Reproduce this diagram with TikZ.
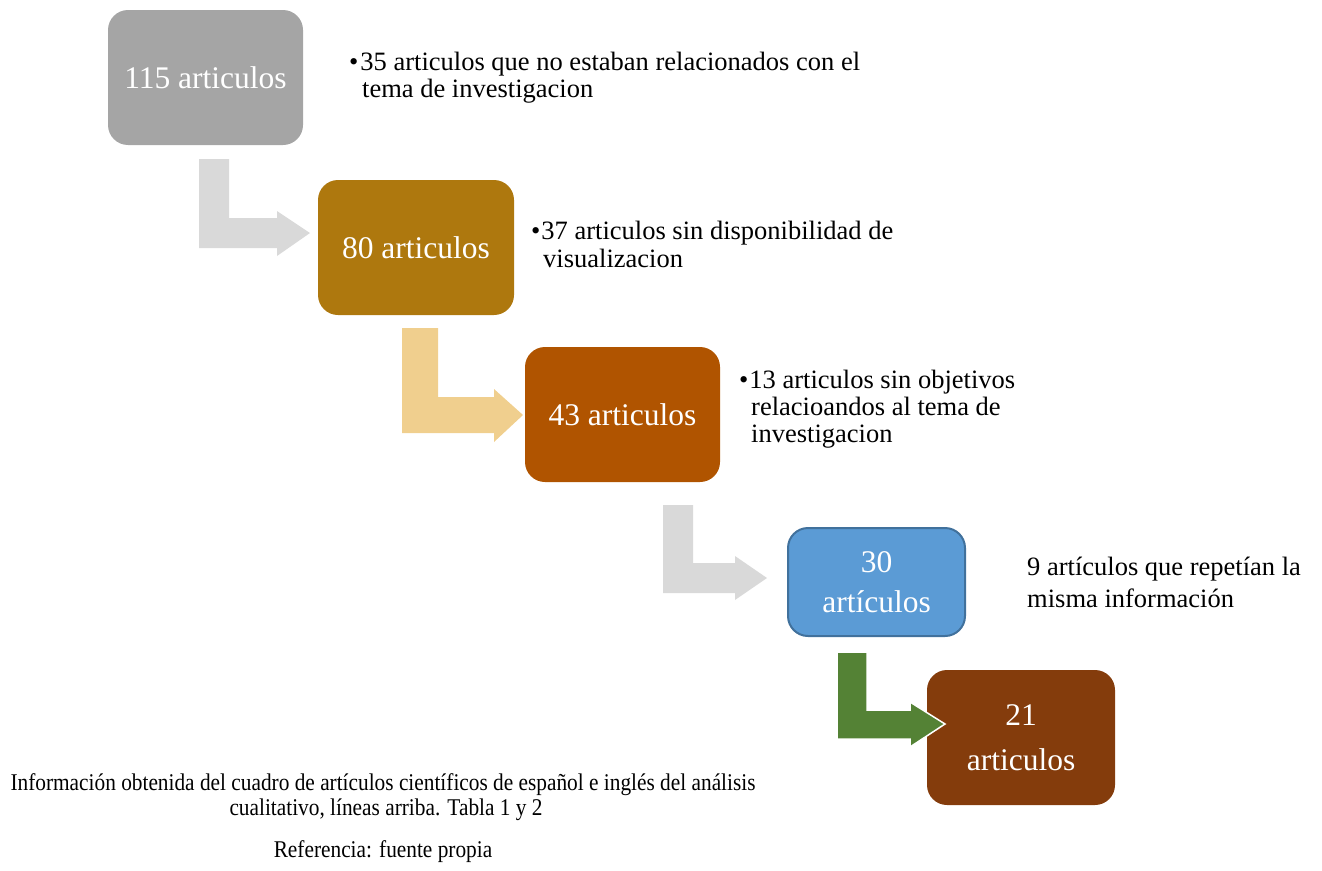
\documentclass[tikz,border=0pt]{standalone}
\usepackage{fontspec}
\setmainfont{Liberation Serif}
\definecolor{cgray}{HTML}{A5A5A5}
\definecolor{clight}{HTML}{D9D9D9}
\definecolor{cgold}{HTML}{AE780E}
\definecolor{ctan}{HTML}{F0CF8E}
\definecolor{corange}{HTML}{B05400}
\definecolor{cblue}{HTML}{5B9BD5}
\definecolor{cblueb}{HTML}{41719C}
\definecolor{cgreen}{HTML}{548235}
\definecolor{cbrown}{HTML}{843C0C}
\newlength\capw
\begin{document}
\settowidth\capw{\fontsize{24}{28}\selectfont Información obtenida del cuadro de artículos científicos de español e inglés del análisis}%
\pgfmathsetmacro\capscale{745/\capw}%
\begin{tikzpicture}[x=1pt,y=-1pt,
  box/.style={rounded corners=20pt, text=white, align=center, inner sep=0pt, font=\fontsize{31.5}{39}\selectfont},
  side/.style={anchor=base west, inner sep=0pt, font=\fontsize{26.5}{30}\selectfont},
  capt/.style={anchor=base, inner sep=0pt, font=\fontsize{24}{28}\selectfont}]
\useasboundingbox (0,0) rectangle (1322,870);
% boxes
\node[box, fill=cgray, minimum width=195pt, minimum height=135pt] (b1) at (205.5,77.5) {115 articulos};
\node[box, fill=cgold, minimum width=196pt, minimum height=135pt] (b2) at (416,247.5) {80 articulos};
\node[box, fill=corange, minimum width=195pt, minimum height=135pt] (b3) at (622.5,414.5) {43 articulos};
\node[box, fill=cblue, draw=cblueb, line width=2pt, minimum width=177pt, minimum height=108pt, font=\fontsize{31.5}{40}\selectfont] (b4) at (876.5,582) {30\\artículos};
\node[box, fill=cbrown, minimum width=188pt, minimum height=135pt, font=\fontsize{31.5}{45}\selectfont] (b5) at (1021,737.5) {21\\articulos};
% bent arrows
\fill[clight] (199,159) -- (229,159) -- (229,218) -- (277,218) -- (277,211) -- (310,233) -- (277,256) -- (277,248) -- (199,248) -- cycle;
\fill[ctan] (402,328) -- (438,328) -- (438,397) -- (494,397) -- (494,389) -- (523,415) -- (494,442) -- (494,433) -- (402,433) -- cycle;
\fill[clight] (663,505) -- (693,505) -- (693,563) -- (735,563) -- (735,556) -- (767,578) -- (735,600) -- (735,593) -- (663,593) -- cycle;
\filldraw[fill=cgreen, draw=white, line width=1.5pt, line join=miter] (837,652) -- (867,652) -- (867,710) -- (910,710) -- (910,702) -- (945,724) -- (910,747) -- (910,739) -- (837,739) -- cycle;
% side texts
\node[side] (t1a) at (349,70) {•\kern2pt 35 articulos que no estaban relacionados con el};
\node[side] (t1b) at (362,97) {tema de investigacion};
\node[side] (t2a) at (531,239) {•\kern1pt 37 articulos sin disponibilidad de};
\node[side] (t2b) at (543,267) {visualizacion};
\node[side] (t3a) at (739,388) {•\kern1pt 13 articulos sin objetivos};
\node[side] (t3b) at (751,415) {relacioandos al tema de};
\node[side] (t3c) at (751,442) {investigacion};
\node[side] (t4a) at (1027,575) {9 artículos que repetían la};
\node[side] (t4b) at (1027,607) {misma información};
% caption
\node[capt] (c1) at (383,790) {\scalebox{\capscale}[1]{Información obtenida del cuadro de artículos científicos de español e inglés del análisis}};
\node[capt] (c2) at (386,815) {\scalebox{\capscale}[1]{cualitativo, líneas arriba. Tabla 1 y 2}};
\node[capt] (c3) at (383,857) {\scalebox{\capscale}[1]{Referencia: fuente propia}};
\end{tikzpicture}
\end{document}
